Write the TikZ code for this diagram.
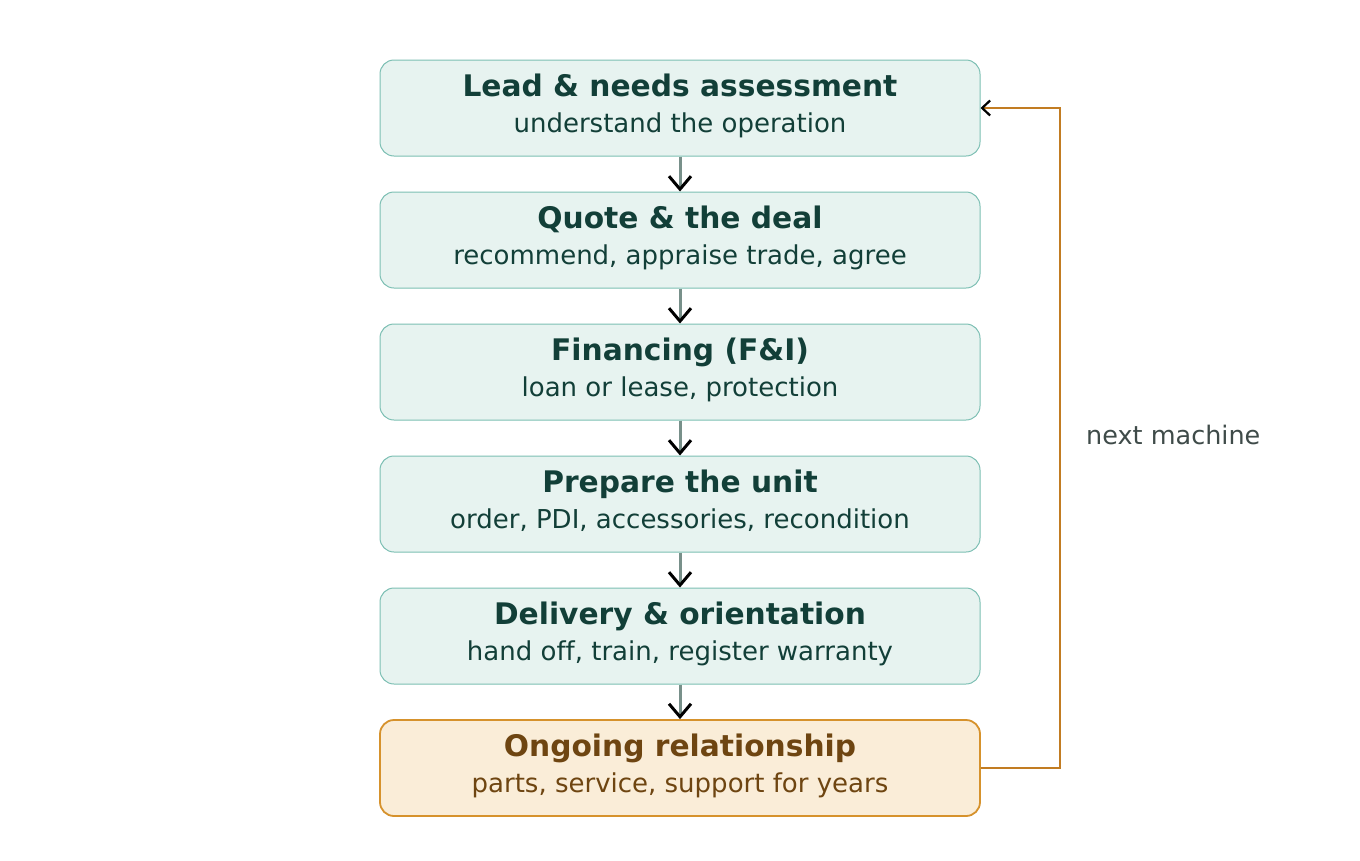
\documentclass[tikz,border=0pt]{standalone}
\usepackage{fontspec}
\setmainfont[Ligatures=NoCommon]{DejaVu Sans}
\usetikzlibrary{arrows.meta}
\definecolor{tfill}{HTML}{E7F3F0}
\definecolor{tdraw}{HTML}{7CBFB3}
\definecolor{ttext}{HTML}{123F38}
\definecolor{ofill}{HTML}{FAEDD8}
\definecolor{odraw}{HTML}{D6922C}
\definecolor{otext}{HTML}{6E4511}
\definecolor{shaft}{HTML}{78908A}
\definecolor{loopc}{HTML}{C27C22}
\definecolor{notec}{HTML}{3F4B49}
\tikzset{
  x=1pt,y=-1pt,
  stepbox/.style={draw=tdraw,fill=tfill,line width=1pt,rounded corners=14pt,minimum width=600pt,minimum height=96pt,inner sep=0pt},
  lastbox/.style={stepbox,draw=odraw,fill=ofill,line width=1.8pt},
  ttl/.style={anchor=base,inner sep=0pt,font=\fontsize{29.7}{34}\selectfont\bfseries},
  sub/.style={anchor=base,inner sep=0pt,font=\fontsize{26}{30}\selectfont},
  flow/.style={draw=shaft,line width=3pt,-{Straight Barb[length=13pt,width=22pt,line width=3pt,black]}},
  back/.style={draw=loopc,line width=2.8pt,-{Straight Barb[length=8pt,width=15pt,line width=2.2pt,black]}}
}
\newcommand{\stepnode}[6]{%
  \node[#3] (#1) at (680,#2) {};
  \node[ttl,text=#4] (#1t) at ([yshift=12pt]#1.center) {#5};
  \node[sub,text=#4] (#1s) at ([yshift=-24pt]#1.center) {#6};
}
\begin{document}
\begin{tikzpicture}
\useasboundingbox (0,0) rectangle (1360,860);
\stepnode{a}{108}{stepbox}{ttext}{Lead \& needs assessment}{understand the operation}
\stepnode{b}{240}{stepbox}{ttext}{Quote \& the deal}{recommend, appraise trade, agree}
\stepnode{c}{372}{stepbox}{ttext}{Financing (F\&I)}{loan or lease, protection}
\stepnode{d}{504}{stepbox}{ttext}{Prepare the unit}{order, PDI, accessories, recondition}
\stepnode{e}{636}{stepbox}{ttext}{Delivery \& orientation}{hand off, train, register warranty}
\stepnode{f}{768}{lastbox}{otext}{Ongoing relationship}{parts, service, support for years}
\foreach \u/\v in {a/b,b/c,c/d,d/e,e/f} \draw[flow] (\u.south) -- (\v.north);
\coordinate (r1) at (1060,768);
\coordinate (r2) at (1060,108);
\draw[back] (f.east) -- (r1) -- (r2) -- (a.east);
\node[anchor=west,text=notec,font=\fontsize{25.5}{30}\selectfont,inner sep=0pt] (n) at (1086,435) {next machine};
\end{tikzpicture}
\end{document}
